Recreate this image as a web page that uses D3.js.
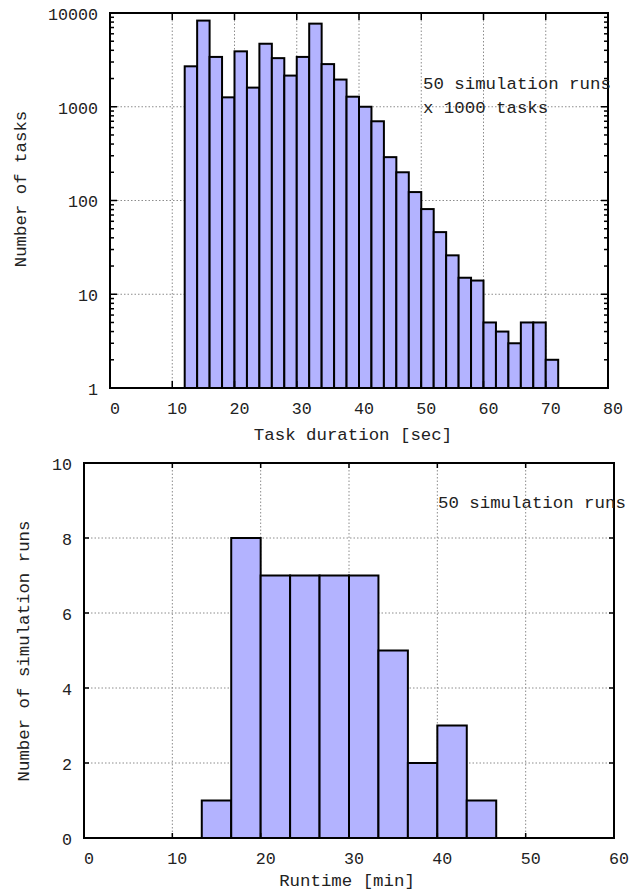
<!DOCTYPE html>
<html>
<head>
<meta charset="utf-8">
<script src="https://cdn.jsdelivr.net/npm/d3@7"></script>
<style>
    body { margin: 0; background: #ffffff; }
    text { font-family: "Liberation Mono", "DejaVu Sans Mono", monospace; fill: #222222; }
</style>
</head>
<body>
<script>
/* ========================== Data ========================= */
// upper panel: task duration histogram (log scale), bins are 2 sec wide
var taskBinStart = [12, 14, 16, 18, 20, 22, 24, 26, 28, 30, 32, 34, 36, 38, 40,
    42, 44, 46, 48, 50, 52, 54, 56, 58, 60, 62, 64, 66, 68, 70];
var taskBinWidth = 2;
var taskCounts = [2700, 8300, 3400, 1260, 3900, 1600, 4700, 3300, 2150, 3400, 7700, 2850, 1950, 1280, 1000,
    700, 290, 200, 123, 81, 46, 26, 15, 14, 5, 4, 3, 5, 5, 2];
var taskXTicks = [0, 10, 20, 30, 40, 50, 60, 70, 80];
var taskYTicks = [1, 10, 100, 1000, 10000];
var taskNote = ["50 simulation runs", "x 1000 tasks"];

// lower panel: runtime histogram
var runBinStart = [13.333, 16.667, 20, 23.333, 26.667, 30, 33.333, 36.667, 40, 43.333];
var runBinWidth = 3.333;
var runCounts = [1, 8, 7, 7, 7, 7, 5, 2, 3, 1];
var runXTicks = [0, 10, 20, 30, 40, 50, 60];
var runYTicks = [0, 2, 4, 6, 8, 10];
var runNote = ["50 simulation runs"];

/* ========= Constants ========= */
var w = 632;
var h = 891;
var barColor = "#b3b3ff";
var gridColor = "#8c8c8c";
var tickSize = "16.7px";
var labelSize = "17.4px";

var svg = d3.select("body")
    .append("svg")
    .attr("width", w)
    .attr("height", h);

/* ====================== Upper panel ========================= */
var upperBox = {left: 110, right: 608, top: 13, bottom: 388};
var xTask = d3.scaleLinear()
    .domain([0, 80])
    .range([upperBox.left, upperBox.right]);
var yTask = d3.scaleLog()
    .domain([1, 10000])
    .range([upperBox.bottom, upperBox.top]);

createGrid(svg, xTask, yTask, taskXTicks.slice(1, -1), taskYTicks.slice(1, -1), upperBox);
createBars(svg, xTask, yTask, taskBinStart, taskBinWidth, taskCounts, 1);
createFrame(svg, upperBox);
createTicks(svg, xTask, yTask, taskXTicks, taskYTicks, upperBox, 7);
// minor log ticks on both sides
var minor = yTask.ticks().filter(function (d) { return taskYTicks.indexOf(d) < 0; });
createMinorTicks(svg, yTask, minor, upperBox, 4);
createTickLabels(svg, xTask, yTask, taskXTicks, taskYTicks, upperBox);
createAxisTitles(svg, "Task duration [sec]", "Number of tasks", 353, 434, 20, 189);
createNote(svg, taskNote, 423, 83);

/* ====================== Lower panel ========================= */
var lowerBox = {left: 84, right: 614, top: 463, bottom: 838};
var xRun = d3.scaleLinear()
    .domain([0, 60])
    .range([lowerBox.left, lowerBox.right]);
var yRun = d3.scaleLinear()
    .domain([0, 10])
    .range([lowerBox.bottom, lowerBox.top]);

createGrid(svg, xRun, yRun, runXTicks.slice(1, -1), runYTicks.slice(1, -1), lowerBox);
createBars(svg, xRun, yRun, runBinStart, runBinWidth, runCounts, 0);
createFrame(svg, lowerBox);
createTicks(svg, xRun, yRun, runXTicks, runYTicks, lowerBox, 5);
createTickLabels(svg, xRun, yRun, runXTicks, runYTicks, lowerBox);
createAxisTitles(svg, "Runtime [min]", "Number of simulation runs", 347, 880, 23, 651);
createNote(svg, runNote, 438, 502);


/* ========================== Functions ===================== */
function createGrid(svg, xScale, yScale, xGrid, yGrid, box) {
    var g = svg.append("g")
        .attr("stroke", gridColor)
        .attr("stroke-width", 1)
        .attr("stroke-dasharray", "1.5,2");
    g.selectAll("line.vx")
        .data(xGrid)
        .enter().append("line")
        .attr("class", "vx")
        .attr("x1", function (d) { return xScale(d); })
        .attr("x2", function (d) { return xScale(d); })
        .attr("y1", box.top)
        .attr("y2", box.bottom);
    g.selectAll("line.hy")
        .data(yGrid)
        .enter().append("line")
        .attr("class", "hy")
        .attr("x1", box.left)
        .attr("x2", box.right)
        .attr("y1", function (d) { return yScale(d); })
        .attr("y2", function (d) { return yScale(d); });
}

function createBars(svg, xScale, yScale, starts, binWidth, counts, base) {
    svg.append("g")
        .selectAll("rect")
        .data(counts)
        .enter().append("rect")
        .attr("x", function (d, i) { return xScale(starts[i]); })
        .attr("width", function (d, i) { return xScale(starts[i] + binWidth) - xScale(starts[i]); })
        .attr("y", function (d) { return yScale(d); })
        .attr("height", function (d) { return yScale(base) - yScale(d); })
        .attr("fill", barColor)
        .attr("stroke", "#000000")
        .attr("stroke-width", 2);
}

function createFrame(svg, box) {
    svg.append("rect")
        .attr("x", box.left)
        .attr("y", box.top)
        .attr("width", box.right - box.left)
        .attr("height", box.bottom - box.top)
        .attr("fill", "none")
        .attr("stroke", "#000000")
        .attr("stroke-width", 2);
}

function createTicks(svg, xScale, yScale, xTicks, yTicks, box, len) {
    var g = svg.append("g")
        .attr("stroke", "#000000")
        .attr("stroke-width", 1.5);
    xTicks.forEach(function (d) {
        var x = xScale(d);
        g.append("line").attr("x1", x).attr("x2", x).attr("y1", box.bottom).attr("y2", box.bottom - len);
        g.append("line").attr("x1", x).attr("x2", x).attr("y1", box.top).attr("y2", box.top + len);
    });
    yTicks.forEach(function (d) {
        var y = yScale(d);
        g.append("line").attr("x1", box.left).attr("x2", box.left + len).attr("y1", y).attr("y2", y);
        g.append("line").attr("x1", box.right).attr("x2", box.right - len).attr("y1", y).attr("y2", y);
    });
}

function createMinorTicks(svg, yScale, ticks, box, len) {
    var g = svg.append("g")
        .attr("stroke", "#000000")
        .attr("stroke-width", 1.5);
    ticks.forEach(function (d) {
        var y = yScale(d);
        g.append("line").attr("x1", box.left).attr("x2", box.left + len).attr("y1", y).attr("y2", y);
        g.append("line").attr("x1", box.right).attr("x2", box.right - len).attr("y1", y).attr("y2", y);
    });
}

function createTickLabels(svg, xScale, yScale, xTicks, yTicks, box) {
    svg.append("g")
        .selectAll("text")
        .data(xTicks)
        .enter().append("text")
        .attr("x", function (d) { return xScale(d) + 5; })
        .attr("y", box.bottom + 20)
        .attr("dy", "0.35em")
        .attr("text-anchor", "middle")
        .attr("font-size", tickSize)
        .text(function (d) { return d; });
    svg.append("g")
        .selectAll("text")
        .data(yTicks)
        .enter().append("text")
        .attr("x", box.left - 12)
        .attr("y", function (d) { return yScale(d) + 1; })
        .attr("dy", "0.35em")
        .attr("text-anchor", "end")
        .attr("font-size", tickSize)
        .text(function (d) { return d; });
}

function createAxisTitles(svg, xTitle, yTitle, xx, xy, yx, yy) {
    svg.append("text")
        .attr("x", xx)
        .attr("y", xy)
        .attr("dy", "0.35em")
        .attr("text-anchor", "middle")
        .attr("font-size", labelSize)
        .text(xTitle);
    svg.append("text")
        .attr("transform", "translate(" + yx + "," + yy + ") rotate(-90)")
        .attr("dy", "0.35em")
        .attr("text-anchor", "middle")
        .attr("font-size", labelSize)
        .text(yTitle);
}

function createNote(svg, lines, x, y) {
    svg.append("g")
        .selectAll("text")
        .data(lines)
        .enter().append("text")
        .attr("x", x)
        .attr("y", function (d, i) { return y + i * 24; })
        .attr("dy", "0.35em")
        .attr("font-size", labelSize)
        .attr("xml:space", "preserve")
        .text(function (d) { return d; });
}
</script>
</body>
</html>
